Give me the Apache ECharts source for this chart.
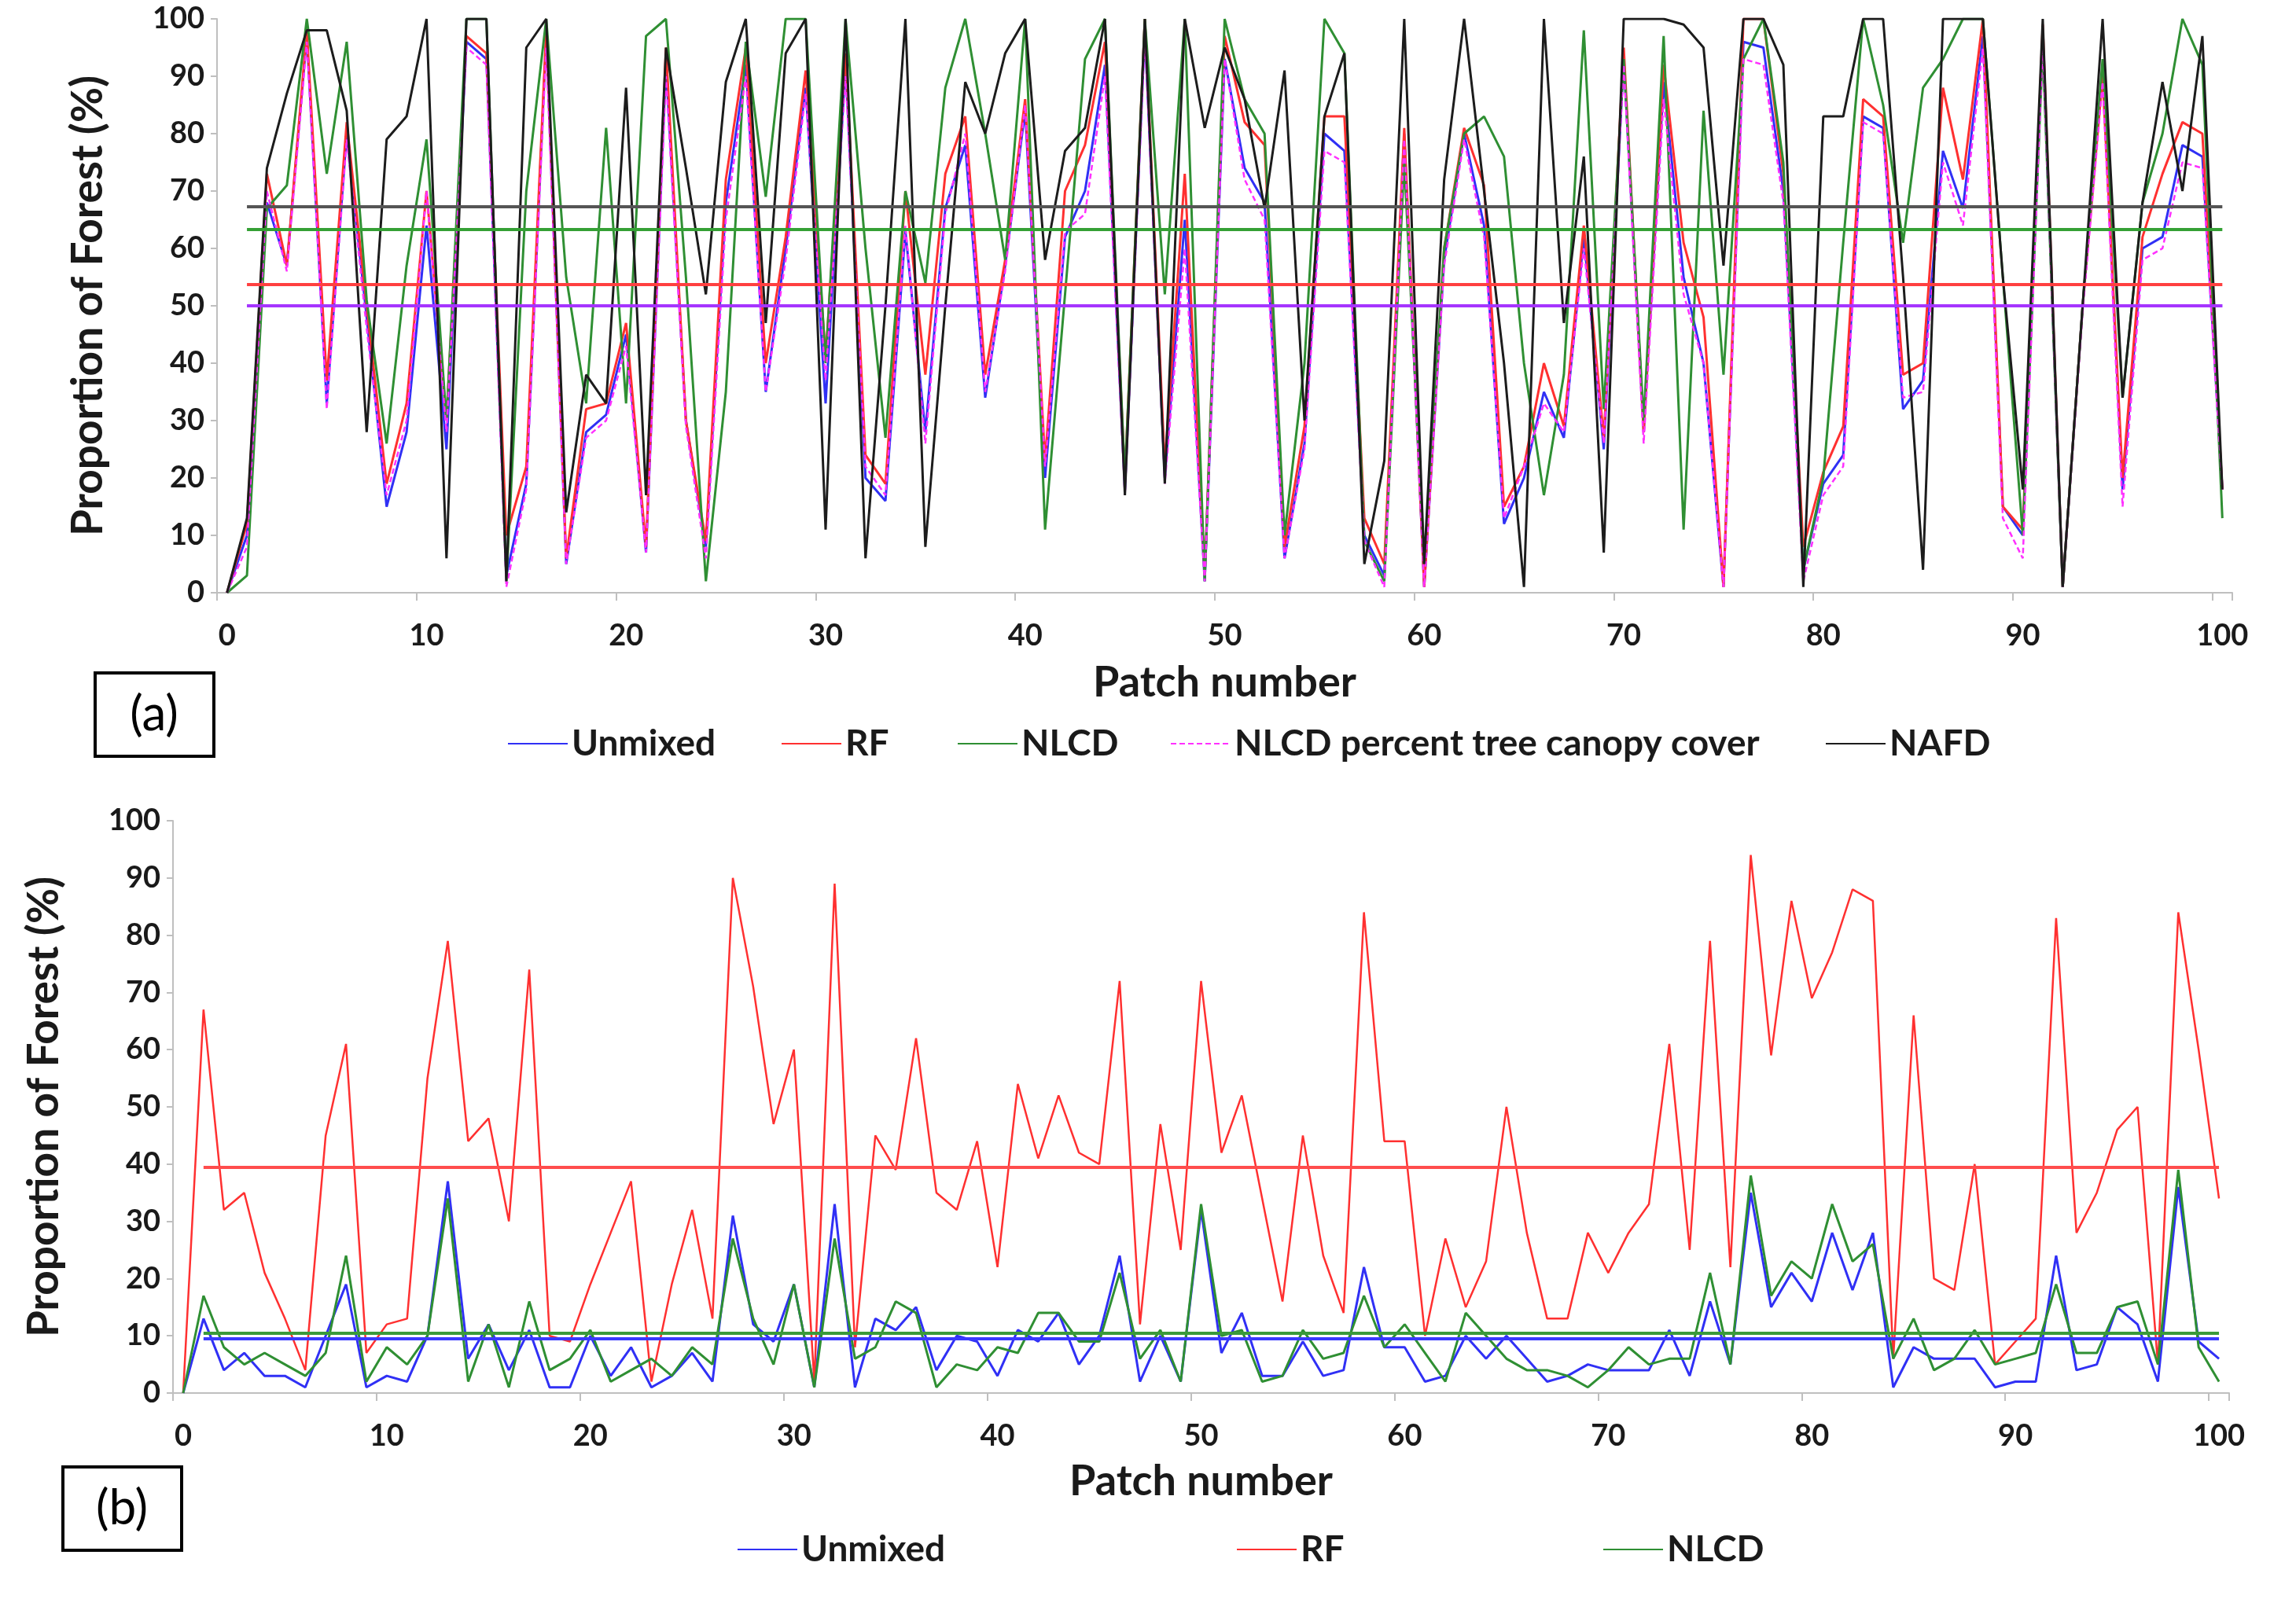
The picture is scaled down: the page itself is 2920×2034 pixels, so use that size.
<!DOCTYPE html>
<html>
<head>
<meta charset="utf-8">
<title>Proportion of Forest by patch</title>
<script src="https://cdn.jsdelivr.net/npm/echarts@6/dist/echarts.min.js"></script>
<style>
  html, body { margin: 0; padding: 0; background: #fff; }
  #chart { width: 2920px; height: 2034px; }
</style>
</head>
<body>
<div id="chart"></div>
<script>
// patch numbers on the x axis
var patches = Array.from({ length: 101 }, function (_, i) { return String(i); });
var yTicks = { min: 0, max: 100, step: 10 };

// (a) panel values, patch 0 .. 100
var aUnmixed = [0,10,68,57,97,33,80,48,15,28,64,25,96,93,3,19,97,5,28,31,45,7,92,30,8,68,92,35,60,88,
  33,92,20,16,63,28,67,78,34,57,84,20,62,70,92,18,98,20,65,2,93,74,68,6,26,80,77,10,3,80,
  1,58,80,64,12,20,35,27,62,25,93,28,89,55,40,1,96,95,70,4,19,24,83,81,32,37,77,67,97,15,
  10,97,1,50,91,18,60,62,78,76,18];
var aRF = [0,12,73,57,98,37,82,50,19,33,70,30,97,94,10,22,98,6,32,33,47,8,95,30,9,72,95,40,62,91,
  41,94,24,19,70,38,73,83,38,58,86,23,70,78,96,20,100,22,73,3,97,82,78,8,29,83,83,13,5,81,
  1,60,81,71,15,22,40,29,64,27,95,28,92,61,48,1,100,100,73,8,21,29,86,83,38,40,88,72,100,15,
  11,99,1,50,90,20,62,73,82,80,18];
var aNLCD = [0,3,67,71,100,73,96,51,26,57,79,30,100,100,2,70,100,55,33,81,33,97,100,55,2,35,96,69,100,100,
  40,100,60,27,70,54,88,100,80,58,100,11,52,93,100,20,100,52,100,2,100,86,80,10,40,100,94,9,2,75,
  5,60,80,83,76,40,17,38,98,32,93,30,97,11,84,38,93,100,75,4,20,61,100,85,61,88,93,100,100,55,
  10,95,1,50,93,34,68,80,100,92,13];
var aCanopy = [0,8,70,56,96,32,79,46,17,30,70,28,95,92,1,18,95,5,27,30,43,7,90,29,6,65,90,35,58,87,
  37,90,22,17,64,26,66,80,35,56,85,22,63,66,90,17,97,19,60,2,93,72,65,6,25,77,75,9,1,79,
  1,57,79,62,13,22,33,28,60,26,92,26,86,52,40,1,93,92,68,2,17,22,82,80,34,35,75,64,95,13,
  6,96,1,49,89,15,58,60,75,74,18];
var aNAFD = [0,13,74,87,98,98,84,28,79,83,100,6,100,100,2,95,100,14,38,33,88,17,95,74,52,89,100,47,94,100,
  11,100,6,50,100,8,50,89,80,94,100,58,77,81,100,17,100,19,100,81,95,86,67,91,30,83,94,5,23,100,
  5,72,100,70,40,1,100,47,76,7,100,100,100,99,95,57,100,100,92,1,83,83,100,100,55,4,100,100,100,55,
  18,100,1,50,100,34,68,89,70,97,18];
var aMeans = { unmixed: 50.0, rf: 53.8, nlcd: 63.3, canopy: 50.0, nafd: 67.3 };

// (b) panel values, patch 0 .. 100
var bUnmixed = [0,13,4,7,3,3,1,10,19,1,3,2,10,37,6,12,4,11,1,1,10,3,8,1,3,7,2,31,12,9,
  19,1,33,1,13,11,15,4,10,9,3,11,9,14,5,10,24,2,10,2,32,7,14,3,3,9,3,4,22,8,
  8,2,3,10,6,10,6,2,3,5,4,4,4,11,3,16,5,35,15,21,16,28,18,28,1,8,6,6,6,1,
  2,2,24,4,5,15,12,2,36,9,6];
var bRF = [0,67,32,35,21,13,4,45,61,7,12,13,55,79,44,48,30,74,10,9,19,28,37,2,19,32,13,90,71,47,
  60,2,89,8,45,39,62,35,32,44,22,54,41,52,42,40,72,12,47,25,72,42,52,34,16,45,24,14,84,44,
  44,10,27,15,23,50,28,13,13,28,21,28,33,61,25,79,22,94,59,86,69,77,88,86,6,66,20,18,40,5,
  9,13,83,28,35,46,50,5,84,60,34];
var bNLCD = [0,17,8,5,7,5,3,7,24,2,8,5,10,34,2,12,1,16,4,6,11,2,4,6,3,8,5,27,13,5,
  19,1,27,6,8,16,14,1,5,4,8,7,14,14,9,9,21,6,11,2,33,10,11,2,3,11,6,7,17,8,
  12,7,2,14,10,6,4,4,3,1,4,8,5,6,6,21,5,38,17,23,20,33,23,26,6,13,4,6,11,5,
  6,7,19,7,7,15,16,5,39,8,2];
var bMeans = { unmixed: 9.5, rf: 39.5, nlcd: 10.5 };

var colors = {
  unmixed: '#3030f5',
  rf: '#ff3030',
  nlcd: '#2f8f33',
  canopy: '#ff30ff',
  nafd: '#1c1c1c'
};

var font = 'Lato, "Open Sans", sans-serif';
var textColor = '#1a1a1a';
var axisGrey = '#bfbfbf';

function meanLine(value, color, opacity) {
  return {
    symbol: 'none',
    silent: true,
    label: { show: false },
    emphasis: { disabled: true },
    lineStyle: { type: 'solid', width: 4, color: color, opacity: opacity },
    data: [[{ coord: ['1', value] }, { coord: ['100', value] }]]
  };
}

function lineSeries(name, data, color, grid, mean, meanColor, meanOpacity, dashed, width) {
  return {
    name: name,
    type: 'line',
    xAxisIndex: grid,
    yAxisIndex: grid,
    data: data,
    symbol: 'none',
    showSymbol: false,
    emphasis: { disabled: true },
    lineStyle: { color: color, width: width, type: dashed ? [7, 4] : 'solid' },
    itemStyle: { color: color },
    markLine: meanLine(mean, meanColor, meanOpacity),
    z: 2
  };
}

function xAxisFor(grid, gap) {
  return {
    type: 'category',
    gridIndex: grid,
    data: patches,
    boundaryGap: true,
    name: 'Patch number',
    nameLocation: 'middle',
    nameGap: gap,
    nameTextStyle: { fontFamily: font, fontSize: 54, fontWeight: 'bold', color: textColor },
    axisLine: { show: true, lineStyle: { color: axisGrey, width: 2 } },
    axisTick: { show: true, interval: 9, alignWithLabel: false, length: 10, lineStyle: { color: axisGrey, width: 2 } },
    axisLabel: { interval: 9, margin: 36, fontFamily: font, fontSize: 38, fontWeight: 'bold', color: textColor },
    splitLine: { show: false }
  };
}

function yAxisFor(grid) {
  return {
    type: 'value',
    gridIndex: grid,
    min: yTicks.min,
    max: yTicks.max,
    interval: yTicks.step,
    name: 'Proportion of Forest (%)',
    nameLocation: 'middle',
    nameGap: 136,
    nameTextStyle: { fontFamily: font, fontSize: 55, fontWeight: 'bold', color: textColor },
    axisLine: { show: true, lineStyle: { color: axisGrey, width: 2 } },
    axisTick: { show: true, length: 8, lineStyle: { color: axisGrey, width: 2 } },
    axisLabel: { margin: 16, fontFamily: font, fontSize: 38, fontWeight: 'bold', color: textColor },
    splitLine: { show: false }
  };
}

function legendItem(name, left, top) {
  return {
    data: [name],
    left: left,
    top: top,
    selectedMode: false,
    itemWidth: 76,
    itemHeight: 14,
    itemStyle: { opacity: 0 },
    textStyle: { fontFamily: font, fontSize: 46, fontWeight: 'bold', color: textColor }
  };
}

function panelLabel(text, x, y) {
  return {
    type: 'group',
    left: x,
    top: y,
    children: [
      { type: 'rect', shape: { x: 0, y: 0, width: 151, height: 106 },
        style: { fill: '#fff', stroke: '#000', lineWidth: 4 } },
      { type: 'text', x: 75, y: 53,
        style: { text: text, fontFamily: font, fontSize: 62, fill: '#000', align: 'center', verticalAlign: 'middle' } }
    ]
  };
}

var chart = echarts.init(document.getElementById('chart'), null, { renderer: 'canvas' });

var option = {
  backgroundColor: '#ffffff',
  animation: false,
  grid: [
    { left: 276, width: 2563, top: 24, height: 730 },
    { left: 220, width: 2615, top: 1044, height: 728 }
  ],
  xAxis: [xAxisFor(0, 88), xAxisFor(1, 86)],
  yAxis: [yAxisFor(0), yAxisFor(1)],
  legend: [
    legendItem('Unmixed', 640, 918),
    legendItem('RF', 988, 918),
    legendItem('NLCD', 1212, 918),
    legendItem('NLCD percent tree canopy cover', 1483, 918),
    legendItem('NAFD', 2316, 918),
    legendItem('Unmixed', 932, 1943),
    legendItem('RF', 1567, 1943),
    legendItem('NLCD', 2033, 1943)
  ],
  graphic: [
    panelLabel('(a)', 119, 854),
    panelLabel('(b)', 78, 1864)
  ],
  series: [
    lineSeries('Unmixed', aUnmixed, colors.unmixed, 0, aMeans.unmixed, '#3a3aff', 1, false, 3),
    lineSeries('RF', aRF, colors.rf, 0, aMeans.rf, '#ff4040', 1, false, 3),
    lineSeries('NLCD', aNLCD, colors.nlcd, 0, aMeans.nlcd, '#35a035', 1, false, 3),
    lineSeries('NLCD percent tree canopy cover', aCanopy, colors.canopy, 0, aMeans.canopy, '#ff30ff', 0.55, true, 2.5),
    lineSeries('NAFD', aNAFD, colors.nafd, 0, aMeans.nafd, '#555555', 1, false, 3),
    lineSeries('Unmixed', bUnmixed, colors.unmixed, 1, bMeans.unmixed, '#3a3aff', 1, false, 3),
    lineSeries('RF', bRF, colors.rf, 1, bMeans.rf, '#ff4d4d', 1, false, 2.5),
    lineSeries('NLCD', bNLCD, colors.nlcd, 1, bMeans.nlcd, '#3a9a3a', 1, false, 3)
  ]
};

chart.setOption(option);
window.addEventListener('resize', function () {
  chart.resize();
});
</script>
</body>
</html>
